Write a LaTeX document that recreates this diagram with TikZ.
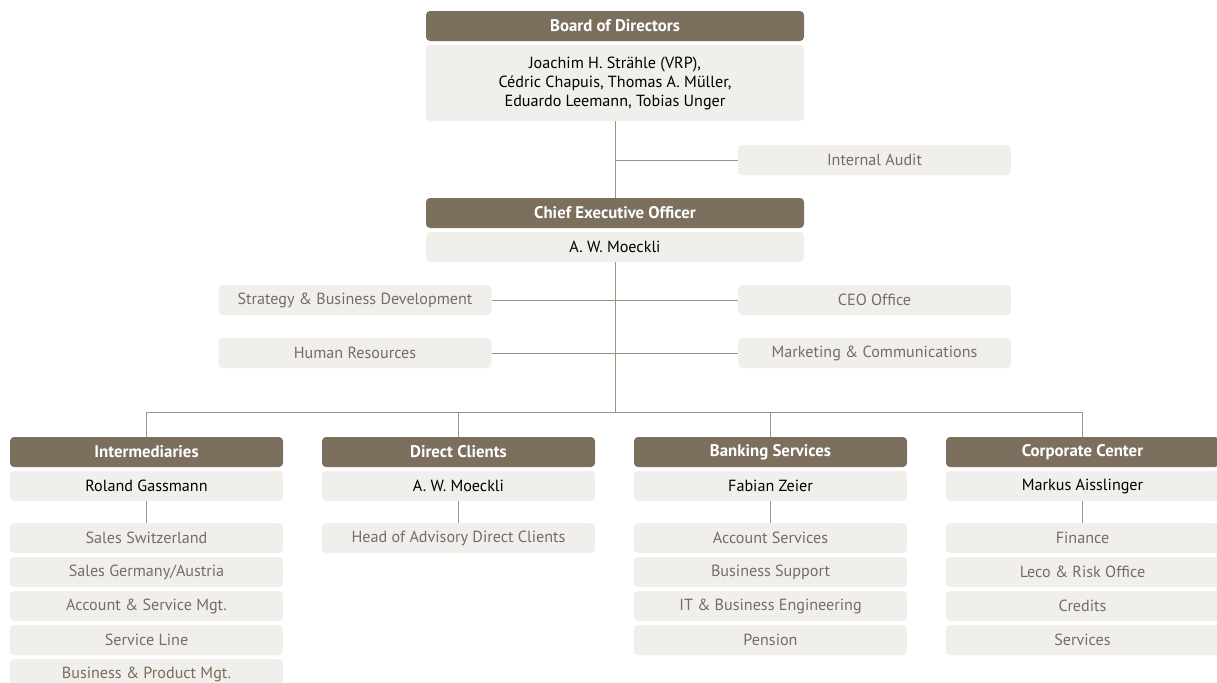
\documentclass[tikz,border=0pt]{standalone}
\usepackage{fontspec}
\setmainfont{PT Sans}
\usepackage{xcolor}
\usepackage{tikz}
\definecolor{headbrown}{RGB}{125,111,94}
\definecolor{boxgrey}{RGB}{241,239,236}
\definecolor{subtext}{RGB}{120,108,95}
\definecolor{linebrown}{RGB}{160,146,128}
\tikzset{head/.style={rectangle,rounded corners=3pt,fill=headbrown,text=white,font=\bfseries\fontsize{12.6}{14}\selectfont,minimum width=204.75pt,minimum height=22.5pt,inner sep=0pt},
         body/.style={rectangle,rounded corners=3pt,fill=boxgrey,text=black,font=\fontsize{12.1}{14.25}\selectfont,minimum width=204.75pt,minimum height=22.5pt,inner sep=0pt},
         unit/.style={rectangle,rounded corners=3pt,fill=boxgrey,text=subtext,font=\fontsize{12.1}{14.25}\selectfont,minimum width=204.75pt,minimum height=22.5pt,inner sep=0pt},
         wide/.style={minimum width=283.5pt},
         link/.style={draw=linebrown,line width=0.75pt}}

\begin{document}
\begin{tikzpicture}[x=0.75pt,y=-0.75pt]
    \useasboundingbox (0,0) rectangle (1217,682);

    % board and ceo
    \node[head,wide] (board) at (615,26) {Board of Directors};
    \node[body,wide,minimum height=57pt,align=center] (boardb) at (615,83) {Joachim H. Strähle (VRP),\\Cédric Chapuis, Thomas A. Müller,\\Eduardo Leemann, Tobias Unger};
    \node[unit] (audit) at (874.5,160) {Internal Audit};
    \node[head,wide] (ceo) at (615,213) {Chief Executive Officer};
    \node[body,wide] (ceob) at (615,247) {A. W. Moeckli};

    % staff units
    \node[unit] (strat) at (355,300) {Strategy \& Business Development};
    \node[unit] (hr) at (355,353) {Human Resources};
    \node[unit] (office) at (874.5,300) {CEO Office};
    \node[unit] (mkt) at (874.5,353) {Marketing \& Communications};

    % divisions
    \node[head] (inter) at (146.5,452) {Intermediaries};
    \node[body] (interb) at (146.5,486) {Roland Gassmann};
    \node[head] (direct) at (458.5,452) {Direct Clients};
    \node[body] (directb) at (458.5,486) {A. W. Moeckli};
    \node[head] (bank) at (770.5,452) {Banking Services};
    \node[body] (bankb) at (770.5,486) {Fabian Zeier};
    \node[head] (corp) at (1082.5,452) {Corporate Center};
    \node[body] (corpb) at (1082.5,486) {Markus Aisslinger};

    \node[unit] (i1) at (146.5,538) {Sales Switzerland};
    \node[unit] (i2) at (146.5,572) {Sales Germany/Austria};
    \node[unit] (i3) at (146.5,606) {Account \& Service Mgt.};
    \node[unit] (i4) at (146.5,640) {Service Line};
    \node[unit] (i5) at (146.5,674) {Business \& Product Mgt.};

    \node[unit] (d1) at (458.5,538) {Head of Advisory Direct Clients};

    \node[unit] (b1) at (770.5,538) {Account Services};
    \node[unit] (b2) at (770.5,572) {Business Support};
    \node[unit] (b3) at (770.5,606) {IT \& Business Engineering};
    \node[unit] (b4) at (770.5,640) {Pension};

    \node[unit] (c1) at (1082.5,538) {Finance};
    \node[unit] (c2) at (1082.5,572) {Leco \& Risk Office};
    \node[unit] (c3) at (1082.5,606) {Credits};
    \node[unit] (c4) at (1082.5,640) {Services};

    \coordinate (bus) at (615,412);

    \draw [link] (boardb) -- (ceo);
    \draw [link] (audit.west) -- (audit.west -| ceo.north);
    \draw [link] (strat) -- (office);
    \draw [link] (hr) -- (mkt);
    \draw [link] (ceob) -- (bus);
    \draw [link] (inter.north) |- (bus);
    \draw [link] (direct.north) |- (bus);
    \draw [link] (bank.north) |- (bus);
    \draw [link] (corp.north) |- (bus);
    \draw [link] (interb) -- (i1);
    \draw [link] (directb) -- (d1);
    \draw [link] (bankb) -- (b1);
    \draw [link] (corpb) -- (c1);
\end{tikzpicture}
\end{document}
